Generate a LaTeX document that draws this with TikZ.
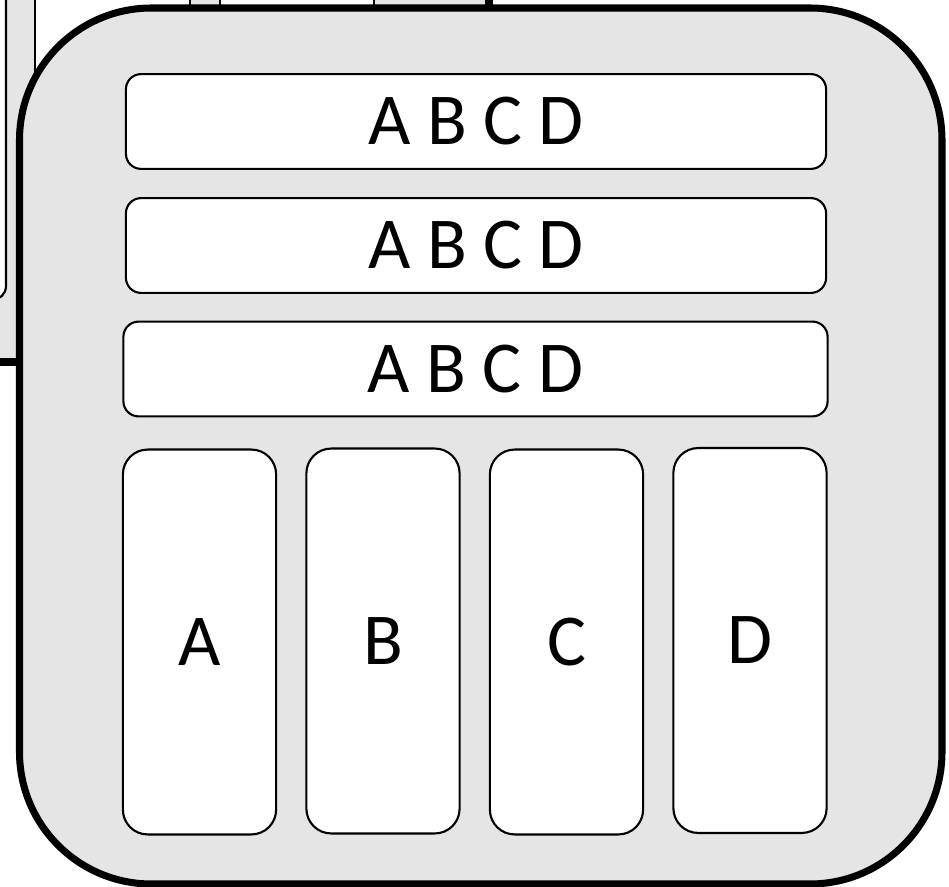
\documentclass[tikz,border=0pt]{standalone}
\usepackage{fontspec}
\setmainfont{Carlito}
\usepackage{tikz}
\usetikzlibrary{positioning,calc}
\definecolor{PanelGray}{RGB}{229,229,229}
\tikzset{
  panel/.style={draw=black,fill=PanelGray,line width=5pt,rounded corners=3.3cm},
  slot/.style={draw=black,fill=white,line width=1.5pt,inner sep=0pt},
  row/.style={slot,rounded corners=0.38cm,minimum width=17.5cm,minimum height=2.37cm},
  col/.style={slot,rounded corners=0.62cm,minimum width=3.83cm,minimum height=9.62cm},
  txt/.style={font=\fontsize{52}{60}\selectfont},
}

\begin{document}
\begin{tikzpicture}[x=0.025cm,y=-0.025cm]
\useasboundingbox (0,0) rectangle (949,887);
\clip (0,0) rectangle (949,887);
% neighbours behind the panel
\fill[PanelGray] (-20,-20) rectangle (35,362);
\draw[slot,rounded corners=0.35cm] (-100,-40) rectangle (6,300);
\draw[line width=1.5pt] (35,-20) -- (35,362);
\draw[line width=5pt] (-20,362) -- (35,362);
\fill[PanelGray] (191,-20) rectangle (489,20);
\draw[line width=1.5pt] (190,-20) -- (190,20);
\draw[slot] (220,-40) rectangle (374,20);
\draw[line width=5pt] (489,-20) -- (489,20);
% panel
\draw[panel] (19.5,8) rectangle (942,884);
\coordinate (r1) at (476,121.5);
\coordinate (r2) at (476,245.5);
\coordinate (r3) at (475.5,369);
\node[row,txt] (rowa) at (r1) {A B C D};
\node[row,txt] (rowb) at (r2) {A B C D};
\node[row,txt,minimum width=17.6cm] (rowc) at (r3) {A B C D};
\node[col,txt] (cola) at (199.5,642) {A};
\node[col,txt] (colb) at (383,641) {B};
\node[col,txt] (colc) at (566.5,642) {C};
\node[col,txt] (cold) at (750,640.5) {D};
\end{tikzpicture}
\end{document}
